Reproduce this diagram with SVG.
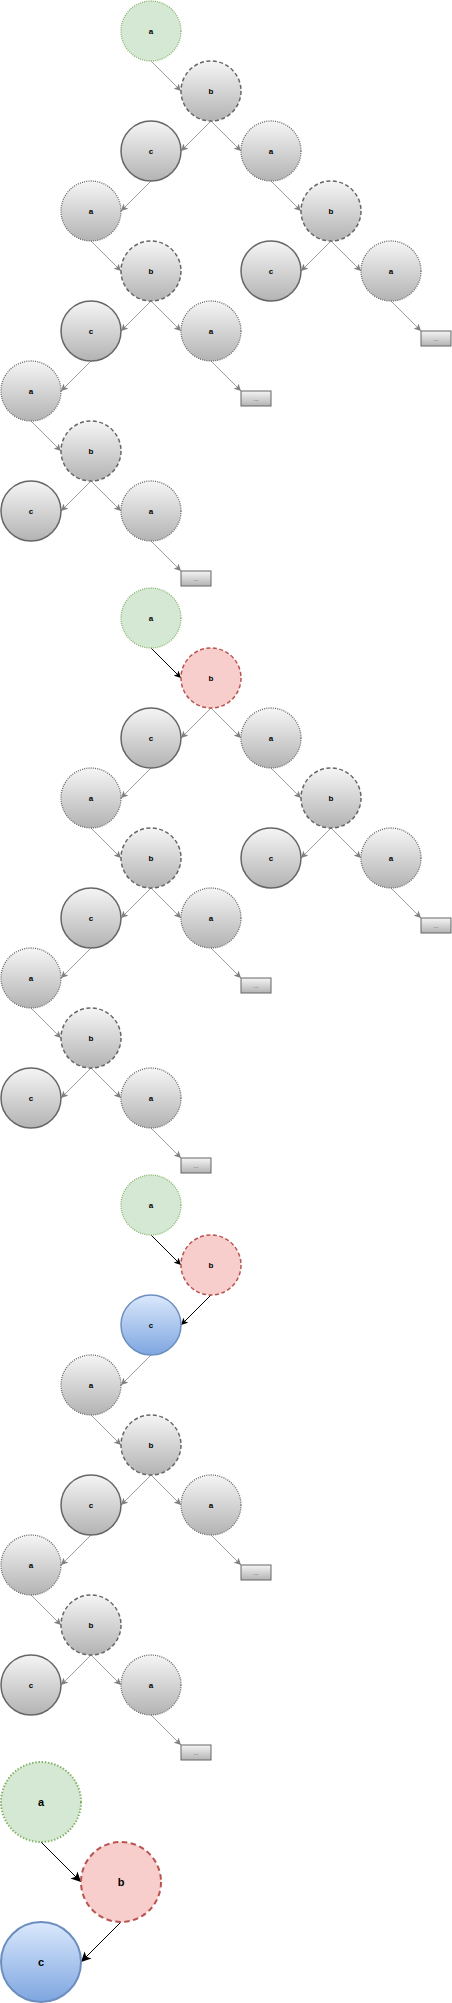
<svg xmlns="http://www.w3.org/2000/svg" xmlns:xlink="http://www.w3.org/1999/xlink" width="452" height="2003" viewBox="0 0 452 2003">
<defs>
<linearGradient id="gGray" x1="0" y1="0" x2="0" y2="1"><stop offset="0" stop-color="#f5f5f5"/><stop offset="1" stop-color="#b3b3b3"/></linearGradient>
<linearGradient id="gBlue" x1="0" y1="0" x2="0" y2="1"><stop offset="0" stop-color="#dae8fc"/><stop offset="1" stop-color="#7ea6e0"/></linearGradient>
<marker id="mGray" markerUnits="userSpaceOnUse" markerWidth="7" markerHeight="7" refX="7" refY="3.5" orient="auto"><path d="M0,0 L7,3.5 L0,7 L1.8,3.5 Z" fill="#808080"/></marker>
<marker id="mBlack" markerUnits="userSpaceOnUse" markerWidth="7" markerHeight="7" refX="7" refY="3.5" orient="auto"><path d="M0,0 L7,3.5 L0,7 L1.8,3.5 Z" fill="#000"/></marker>
<marker id="mBig" markerUnits="userSpaceOnUse" markerWidth="10" markerHeight="10" refX="10" refY="5" orient="auto"><path d="M0,0 L10,5 L0,10 L2.5,5 Z" fill="#000"/></marker>
</defs>
<style>
.na{fill:url(#gGray);stroke:#666;stroke-width:1.3;stroke-dasharray:1 1.2}
.nb{fill:url(#gGray);stroke:#666;stroke-width:1.5;stroke-dasharray:4 2.5}
.nc{fill:url(#gGray);stroke:#666;stroke-width:1.5}
.ga{fill:#d5e8d4;stroke:#82b366;stroke-width:1.3;stroke-dasharray:1 1.2}
.rb{fill:#f8cecc;stroke:#b85450;stroke-width:1.5;stroke-dasharray:4 2.5}
.bc{fill:url(#gBlue);stroke:#6c8ebf;stroke-width:1.5}
.box{fill:url(#gGray);stroke:#666;stroke-width:1}
.BA{fill:#d5e8d4;stroke:#82b366;stroke-width:2;stroke-dasharray:1.5 1.7}
.BB{fill:#f8cecc;stroke:#b85450;stroke-width:2;stroke-dasharray:5.5 3.5}
.BC{fill:url(#gBlue);stroke:#6c8ebf;stroke-width:2}
text{font-family:"Liberation Sans",Arial,Helvetica,sans-serif;font-weight:bold;font-size:8px;text-anchor:middle;fill:#000}
text.dots{font-weight:normal;font-size:6px;fill:#333}
text.big{font-size:11px}
.e{fill:none;stroke:#a0a0a0;stroke-width:1;marker-end:url(#mGray)}
.k{fill:none;stroke:#000;stroke-width:1;marker-end:url(#mBlack)}
.K{fill:none;stroke:#000;stroke-width:1;marker-end:url(#mBig)}
</style>
<g id="connectors">
<!-- tree 1 -->
<line class="e" x1="151" y1="61" x2="181" y2="91"/>
<line class="e" x1="211" y1="121" x2="181" y2="151"/>
<line class="e" x1="211" y1="121" x2="241" y2="151"/>
<line class="e" x1="151" y1="181" x2="121" y2="211"/>
<line class="e" x1="271" y1="181" x2="301" y2="211"/>
<line class="e" x1="91" y1="241" x2="121" y2="271"/>
<line class="e" x1="331" y1="241" x2="301" y2="271"/>
<line class="e" x1="331" y1="241" x2="361" y2="271"/>
<line class="e" x1="151" y1="301" x2="121" y2="331"/>
<line class="e" x1="151" y1="301" x2="181" y2="331"/>
<line class="e" x1="391" y1="301" x2="421" y2="331"/>
<line class="e" x1="91" y1="361" x2="61" y2="391"/>
<line class="e" x1="211" y1="361" x2="241" y2="391"/>
<line class="e" x1="31" y1="421" x2="61" y2="451"/>
<line class="e" x1="91" y1="481" x2="61" y2="511"/>
<line class="e" x1="91" y1="481" x2="121" y2="511"/>
<line class="e" x1="151" y1="541" x2="181" y2="571"/>
<!-- tree 2 -->
<line class="k" x1="151" y1="648" x2="181" y2="678"/>
<line class="e" x1="211" y1="708" x2="181" y2="738"/>
<line class="e" x1="211" y1="708" x2="241" y2="738"/>
<line class="e" x1="151" y1="768" x2="121" y2="798"/>
<line class="e" x1="271" y1="768" x2="301" y2="798"/>
<line class="e" x1="91" y1="828" x2="121" y2="858"/>
<line class="e" x1="331" y1="828" x2="301" y2="858"/>
<line class="e" x1="331" y1="828" x2="361" y2="858"/>
<line class="e" x1="151" y1="888" x2="121" y2="918"/>
<line class="e" x1="151" y1="888" x2="181" y2="918"/>
<line class="e" x1="391" y1="888" x2="421" y2="918"/>
<line class="e" x1="91" y1="948" x2="61" y2="978"/>
<line class="e" x1="211" y1="948" x2="241" y2="978"/>
<line class="e" x1="31" y1="1008" x2="61" y2="1038"/>
<line class="e" x1="91" y1="1068" x2="61" y2="1098"/>
<line class="e" x1="91" y1="1068" x2="121" y2="1098"/>
<line class="e" x1="151" y1="1128" x2="181" y2="1158"/>
<!-- tree 3 -->
<line class="k" x1="151" y1="1235" x2="181" y2="1265"/>
<line class="k" x1="211" y1="1295" x2="181" y2="1325"/>
<line class="e" x1="151" y1="1355" x2="121" y2="1385"/>
<line class="e" x1="91" y1="1415" x2="121" y2="1445"/>
<line class="e" x1="151" y1="1475" x2="121" y2="1505"/>
<line class="e" x1="151" y1="1475" x2="181" y2="1505"/>
<line class="e" x1="91" y1="1535" x2="61" y2="1565"/>
<line class="e" x1="211" y1="1535" x2="241" y2="1565"/>
<line class="e" x1="31" y1="1595" x2="61" y2="1625"/>
<line class="e" x1="91" y1="1655" x2="61" y2="1685"/>
<line class="e" x1="91" y1="1655" x2="121" y2="1685"/>
<line class="e" x1="151" y1="1715" x2="181" y2="1745"/>
<!-- tree 4 -->
<line class="K" x1="41" y1="1842" x2="81" y2="1882"/>
<line class="K" x1="121" y1="1922" x2="81" y2="1962"/>
</g>
<!-- tree 1 -->
<g id="t1-a1"><circle class="ga" cx="151" cy="31" r="30"/><text x="151" y="34">a</text></g>
<g id="t1-b1"><circle class="nb" cx="211" cy="91" r="30"/><text x="211" y="94">b</text></g>
<g id="t1-c1"><circle class="nc" cx="151" cy="151" r="30"/><text x="151" y="154">c</text></g>
<g id="t1-a2"><circle class="na" cx="271" cy="151" r="30"/><text x="271" y="154">a</text></g>
<g id="t1-a3"><circle class="na" cx="91" cy="211" r="30"/><text x="91" y="214">a</text></g>
<g id="t1-b2"><circle class="nb" cx="331" cy="211" r="30"/><text x="331" y="214">b</text></g>
<g id="t1-b3"><circle class="nb" cx="151" cy="271" r="30"/><text x="151" y="274">b</text></g>
<g id="t1-c2"><circle class="nc" cx="271" cy="271" r="30"/><text x="271" y="274">c</text></g>
<g id="t1-a4"><circle class="na" cx="391" cy="271" r="30"/><text x="391" y="274">a</text></g>
<g id="t1-c3"><circle class="nc" cx="91" cy="331" r="30"/><text x="91" y="334">c</text></g>
<g id="t1-a5"><circle class="na" cx="211" cy="331" r="30"/><text x="211" y="334">a</text></g>
<g id="t1-x1"><rect class="box" x="421" y="331" width="30" height="15"/><text class="dots" x="436" y="341">...</text></g>
<g id="t1-a6"><circle class="na" cx="31" cy="391" r="30"/><text x="31" y="394">a</text></g>
<g id="t1-x2"><rect class="box" x="241" y="391" width="30" height="15"/><text class="dots" x="256" y="401">...</text></g>
<g id="t1-b4"><circle class="nb" cx="91" cy="451" r="30"/><text x="91" y="454">b</text></g>
<g id="t1-c4"><circle class="nc" cx="31" cy="511" r="30"/><text x="31" y="514">c</text></g>
<g id="t1-a7"><circle class="na" cx="151" cy="511" r="30"/><text x="151" y="514">a</text></g>
<g id="t1-x3"><rect class="box" x="181" y="571" width="30" height="15"/><text class="dots" x="196" y="581">...</text></g>
<!-- tree 2 -->
<g id="t2-a1"><circle class="ga" cx="151" cy="618" r="30"/><text x="151" y="621">a</text></g>
<g id="t2-b1"><circle class="rb" cx="211" cy="678" r="30"/><text x="211" y="681">b</text></g>
<g id="t2-c1"><circle class="nc" cx="151" cy="738" r="30"/><text x="151" y="741">c</text></g>
<g id="t2-a2"><circle class="na" cx="271" cy="738" r="30"/><text x="271" y="741">a</text></g>
<g id="t2-a3"><circle class="na" cx="91" cy="798" r="30"/><text x="91" y="801">a</text></g>
<g id="t2-b2"><circle class="nb" cx="331" cy="798" r="30"/><text x="331" y="801">b</text></g>
<g id="t2-b3"><circle class="nb" cx="151" cy="858" r="30"/><text x="151" y="861">b</text></g>
<g id="t2-c2"><circle class="nc" cx="271" cy="858" r="30"/><text x="271" y="861">c</text></g>
<g id="t2-a4"><circle class="na" cx="391" cy="858" r="30"/><text x="391" y="861">a</text></g>
<g id="t2-c3"><circle class="nc" cx="91" cy="918" r="30"/><text x="91" y="921">c</text></g>
<g id="t2-a5"><circle class="na" cx="211" cy="918" r="30"/><text x="211" y="921">a</text></g>
<g id="t2-x1"><rect class="box" x="421" y="918" width="30" height="15"/><text class="dots" x="436" y="928">...</text></g>
<g id="t2-a6"><circle class="na" cx="31" cy="978" r="30"/><text x="31" y="981">a</text></g>
<g id="t2-x2"><rect class="box" x="241" y="978" width="30" height="15"/><text class="dots" x="256" y="988">...</text></g>
<g id="t2-b4"><circle class="nb" cx="91" cy="1038" r="30"/><text x="91" y="1041">b</text></g>
<g id="t2-c4"><circle class="nc" cx="31" cy="1098" r="30"/><text x="31" y="1101">c</text></g>
<g id="t2-a7"><circle class="na" cx="151" cy="1098" r="30"/><text x="151" y="1101">a</text></g>
<g id="t2-x3"><rect class="box" x="181" y="1158" width="30" height="15"/><text class="dots" x="196" y="1168">...</text></g>
<!-- tree 3 -->
<g id="t3-a1"><circle class="ga" cx="151" cy="1205" r="30"/><text x="151" y="1208">a</text></g>
<g id="t3-b1"><circle class="rb" cx="211" cy="1265" r="30"/><text x="211" y="1268">b</text></g>
<g id="t3-c1"><circle class="bc" cx="151" cy="1325" r="30"/><text x="151" y="1328">c</text></g>
<g id="t3-a3"><circle class="na" cx="91" cy="1385" r="30"/><text x="91" y="1388">a</text></g>
<g id="t3-b3"><circle class="nb" cx="151" cy="1445" r="30"/><text x="151" y="1448">b</text></g>
<g id="t3-c3"><circle class="nc" cx="91" cy="1505" r="30"/><text x="91" y="1508">c</text></g>
<g id="t3-a5"><circle class="na" cx="211" cy="1505" r="30"/><text x="211" y="1508">a</text></g>
<g id="t3-a6"><circle class="na" cx="31" cy="1565" r="30"/><text x="31" y="1568">a</text></g>
<g id="t3-x2"><rect class="box" x="241" y="1565" width="30" height="15"/><text class="dots" x="256" y="1575">...</text></g>
<g id="t3-b4"><circle class="nb" cx="91" cy="1625" r="30"/><text x="91" y="1628">b</text></g>
<g id="t3-c4"><circle class="nc" cx="31" cy="1685" r="30"/><text x="31" y="1688">c</text></g>
<g id="t3-a7"><circle class="na" cx="151" cy="1685" r="30"/><text x="151" y="1688">a</text></g>
<g id="t3-x3"><rect class="box" x="181" y="1745" width="30" height="15"/><text class="dots" x="196" y="1755">...</text></g>
<!-- tree 4 -->
<g id="t4-a"><circle class="BA" cx="41" cy="1802" r="40"/><text class="big" x="41" y="1806">a</text></g>
<g id="t4-b"><circle class="BB" cx="121" cy="1882" r="40"/><text class="big" x="121" y="1886">b</text></g>
<g id="t4-c"><circle class="BC" cx="41" cy="1962" r="40"/><text class="big" x="41" y="1966">c</text></g>
</svg>
